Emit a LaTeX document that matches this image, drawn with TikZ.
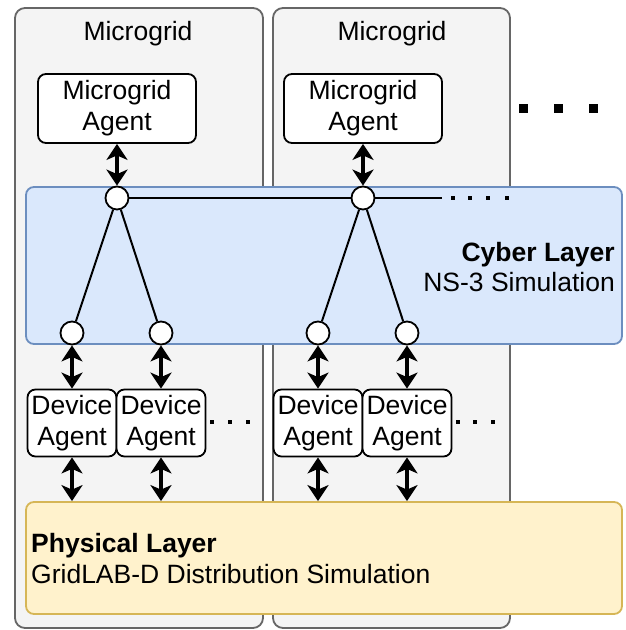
\documentclass[tikz,border=0pt]{standalone}
\usepackage{fontspec}
\setmainfont{Liberation Sans}
\usetikzlibrary{arrows.meta}
\definecolor{panelfill}{HTML}{F4F4F4}
\definecolor{paneldraw}{HTML}{666666}
\definecolor{cyberfill}{HTML}{DAE8FC}
\definecolor{cyberdraw}{HTML}{6C8EBF}
\definecolor{physfill}{HTML}{FFF2CC}
\definecolor{physdraw}{HTML}{D6B656}
\tikzset{
  panel/.style={draw=paneldraw, fill=panelfill, line width=1.8pt, rounded corners=10pt,
    minimum height=620pt, inner sep=0pt},
  agent/.style={draw=black, fill=white, line width=1.8pt, rounded corners=8pt,
    align=center, inner sep=0pt},
  mgagent/.style={agent, minimum width=158pt, minimum height=69pt},
  devagent/.style={agent, minimum width=89pt, minimum height=67pt},
  layer/.style={line width=1.8pt, rounded corners=8pt, minimum width=596pt, inner sep=0pt},
  hub/.style={circle, draw=black, fill=white, line width=1.8pt, minimum size=23pt, inner sep=0pt},
  link/.style={line width=2pt},
  biarrow/.style={line width=4.2pt,
    {Stealth[length=16pt,width=21pt,inset=4.5pt]}-{Stealth[length=16pt,width=21pt,inset=4.5pt]}},
}
\begin{document}
\begin{tikzpicture}[x=1pt, y=-1pt, font=\fontsize{26.5}{31}\selectfont]
\useasboundingbox (0,0) rectangle (626,630);

% microgrid containers
\node[panel, minimum width=248pt] (mg1) at (139,318) {};
\node[panel, minimum width=237pt] (mg2) at (391.5,318) {};
\node[anchor=base] (mg1t) at (138,40) {Microgrid};
\node[anchor=base] (mg2t) at (392,40) {Microgrid};

% microgrid agents
\node[mgagent] (mga1) at (117,108.5) {Microgrid\\Agent};
\node[mgagent] (mga2) at (363,108.5) {Microgrid\\Agent};

% layers
\node[layer, draw=cyberdraw, fill=cyberfill, minimum height=157pt] (cyber) at (324,265.5) {};
\node[layer, draw=physdraw, fill=physfill, minimum height=112pt] (phys) at (324,558) {};

\node[anchor=base east, font=\fontsize{26.5}{31}\selectfont\bfseries, inner sep=0pt] (cyberT) at (615,261) {Cyber Layer};
\node[anchor=base east, inner sep=0pt] (cyberS) at (615,291) {NS-3 Simulation};
\node[anchor=base west, font=\fontsize{26.5}{31}\selectfont\bfseries, inner sep=0pt] (physT) at (31,552) {Physical Layer};
\node[anchor=base west, inner sep=0pt] (physS) at (31,583) {GridLAB-D Distribution Simulation};

% network nodes
\node[hub] (h1) at (117,198) {};
\node[hub] (h2) at (363,198) {};
\node[hub] (n1) at (72,333) {};
\node[hub] (n2) at (161,333) {};
\node[hub] (n3) at (318,333) {};
\node[hub] (n4) at (407,333) {};
\coordinate (bus) at (442,198);

\draw[link] (h1) -- (h2) -- (bus);
\draw[link] (h1) -- (n1);
\draw[link] (h1) -- (n2);
\draw[link] (h2) -- (n3);
\draw[link] (h2) -- (n4);

% device agents
\node[devagent] (d1) at (72,423) {Device\\Agent};
\node[devagent] (d2) at (161,423) {Device\\Agent};
\node[devagent] (d3) at (318,423) {Device\\Agent};
\node[devagent] (d4) at (407,423) {Device\\Agent};

% bidirectional links
\draw[biarrow] (mga1.south) -- (h1.north);
\draw[biarrow] (mga2.south) -- (h2.north);
\draw[biarrow] (n1.south) -- (d1.north);
\draw[biarrow] (n2.south) -- (d2.north);
\draw[biarrow] (n3.south) -- (d3.north);
\draw[biarrow] (n4.south) -- (d4.north);
\draw[biarrow] (d1.south) -- (d1.south |- phys.north);
\draw[biarrow] (d2.south) -- (d2.south |- phys.north);
\draw[biarrow] (d3.south) -- (d3.south |- phys.north);
\draw[biarrow] (d4.south) -- (d4.south |- phys.north);

% continuation dots
\foreach \x in {453,470,488,507} \fill (\x-2,196) rectangle ++(4,4);
\foreach \x in {212,230,248,458,475,493} \fill (\x-2,420) rectangle ++(4,4);
\foreach \x in {523,558,593} \fill (\x-4.5,103.5) rectangle ++(9,9);
\end{tikzpicture}
\end{document}
